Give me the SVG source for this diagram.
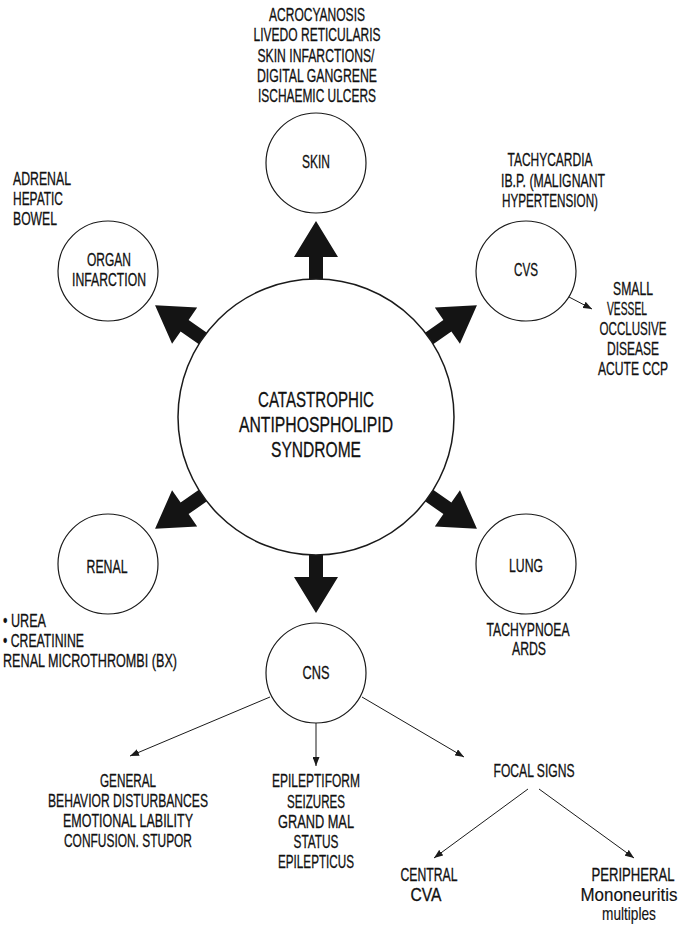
<svg xmlns="http://www.w3.org/2000/svg" width="680" height="927" viewBox="0 0 680 927">
  <style>
    .bg { fill: #ffffff; }
    .node { fill: #ffffff; stroke: #1a1a1a; stroke-width: 1.2; }
    .hub { fill: #ffffff; stroke: #1a1a1a; stroke-width: 1.5; }
    .t { font-family: "Liberation Sans", Arial, sans-serif; font-size: 18px; fill: #111111; stroke: #111111; stroke-width: 0.3; text-anchor: middle; }
    .l { text-anchor: start; }
    .lc { stroke-width: 0.15; }
    .title { font-size: 22px; }
    .thick { fill: #141414; }
    .thin { fill: none; stroke: #1a1a1a; stroke-width: 1; marker-end: url(#head); }
  </style>
  <defs>
    <marker id="head" markerUnits="userSpaceOnUse" markerWidth="10" markerHeight="7" refX="9" refY="3.5" orient="auto">
      <path d="M0,0 L9,3.5 L0,7 z" fill="#1a1a1a"/>
    </marker>
    <!-- broad arrow pointing up, origin at the hub centre -->
    <path id="bigArrow" d="M-7,-136 L-7,-160 L-22,-160 L0,-196 L22,-160 L7,-160 L7,-136 z"/>
  </defs>

  <rect class="bg" x="0" y="0" width="680" height="927"/>

  <!-- connectors -->
  <g id="connectors">
    <g class="thick" transform="translate(316,417)">
      <use href="#bigArrow"/>
      <use href="#bigArrow" transform="rotate(55.2)"/>
      <use href="#bigArrow" transform="rotate(-55.2)"/>
      <use href="#bigArrow" transform="rotate(124.8)"/>
      <use href="#bigArrow" transform="rotate(-124.8)"/>
      <use href="#bigArrow" transform="rotate(180)"/>
    </g>
    <line class="thin" x1="569" y1="297" x2="592" y2="309"/>
    <line class="thin" x1="270" y1="697" x2="130" y2="756"/>
    <line class="thin" x1="316" y1="723" x2="316" y2="766"/>
    <line class="thin" x1="362" y1="697" x2="464" y2="757"/>
    <line class="thin" x1="528" y1="789" x2="434" y2="858"/>
    <line class="thin" x1="539" y1="789" x2="634" y2="858"/>
  </g>

  <!-- central syndrome -->
  <g id="caps">
    <circle class="hub" cx="316" cy="417" r="138"/>
    <text class="t title" x="316" y="407" textLength="116" lengthAdjust="spacingAndGlyphs">CATASTROPHIC</text>
    <text class="t title" x="316" y="432" textLength="154" lengthAdjust="spacingAndGlyphs">ANTIPHOSPHOLIPID</text>
    <text class="t title" x="316" y="457" textLength="90" lengthAdjust="spacingAndGlyphs">SYNDROME</text>
  </g>

  <!-- skin -->
  <g id="skin">
    <text class="t" x="317" y="21" textLength="96" lengthAdjust="spacingAndGlyphs">ACROCYANOSIS</text>
    <text class="t" x="317" y="41" textLength="127" lengthAdjust="spacingAndGlyphs">LIVEDO RETICULARIS</text>
    <text class="t" x="316" y="62" textLength="117" lengthAdjust="spacingAndGlyphs">SKIN INFARCTIONS/</text>
    <text class="t" x="317" y="82" textLength="120" lengthAdjust="spacingAndGlyphs">DIGITAL GANGRENE</text>
    <text class="t" x="317" y="102" textLength="118" lengthAdjust="spacingAndGlyphs">ISCHAEMIC ULCERS</text>
    <circle class="node" cx="316" cy="163" r="50"/>
    <text class="t" x="316" y="168" textLength="28" lengthAdjust="spacingAndGlyphs">SKIN</text>
  </g>

  <!-- cardiovascular -->
  <g id="cvs">
    <text class="t" x="550" y="166" textLength="85" lengthAdjust="spacingAndGlyphs">TACHYCARDIA</text>
    <text class="t" x="553" y="187" textLength="104" lengthAdjust="spacingAndGlyphs">IB.P. (MALIGNANT</text>
    <text class="t" x="550" y="207" textLength="96" lengthAdjust="spacingAndGlyphs">HYPERTENSION)</text>
    <circle class="node" cx="526" cy="271" r="50"/>
    <text class="t" x="526" y="276" textLength="24" lengthAdjust="spacingAndGlyphs">CVS</text>
    <!-- narrow column by the right edge: squeezed horizontally -->
    <g transform="translate(633,0) scale(0.7,1)">
      <text class="t" x="0" y="295" textLength="57" lengthAdjust="spacingAndGlyphs">SMALL</text>
      <text class="t" x="-8.6" y="315" textLength="57" lengthAdjust="spacingAndGlyphs">VESSEL</text>
      <text class="t" x="0" y="335" textLength="95.7" lengthAdjust="spacingAndGlyphs">OCCLUSIVE</text>
      <text class="t" x="0" y="355" textLength="74.3" lengthAdjust="spacingAndGlyphs">DISEASE</text>
      <text class="t" x="0" y="375" textLength="100" lengthAdjust="spacingAndGlyphs">ACUTE CCP</text>
    </g>
  </g>

  <!-- organ infarction -->
  <g id="organ">
    <text class="t l" x="13" y="185" textLength="58" lengthAdjust="spacingAndGlyphs">ADRENAL</text>
    <text class="t l" x="13" y="205" textLength="50" lengthAdjust="spacingAndGlyphs">HEPATIC</text>
    <text class="t l" x="13" y="225" textLength="44" lengthAdjust="spacingAndGlyphs">BOWEL</text>
    <circle class="node" cx="108" cy="271" r="50"/>
    <text class="t" x="109" y="266" textLength="44" lengthAdjust="spacingAndGlyphs">ORGAN</text>
    <text class="t" x="109" y="286" textLength="74" lengthAdjust="spacingAndGlyphs">INFARCTION</text>
  </g>

  <!-- renal -->
  <g id="renal">
    <circle class="node" cx="108" cy="564" r="50"/>
    <text class="t" x="107" y="573" textLength="41" lengthAdjust="spacingAndGlyphs">RENAL</text>
    <text class="t l" x="3" y="627" textLength="43" lengthAdjust="spacingAndGlyphs">• UREA</text>
    <text class="t l" x="3" y="647" textLength="81" lengthAdjust="spacingAndGlyphs">• CREATININE</text>
    <text class="t l" x="3" y="667" textLength="174" lengthAdjust="spacingAndGlyphs">RENAL MICROTHROMBI (BX)</text>
  </g>

  <!-- lung -->
  <g id="lung">
    <circle class="node" cx="526" cy="564" r="50"/>
    <text class="t" x="526" y="572" textLength="34" lengthAdjust="spacingAndGlyphs">LUNG</text>
    <text class="t" x="528" y="636" textLength="83" lengthAdjust="spacingAndGlyphs">TACHYPNOEA</text>
    <text class="t" x="529" y="655" textLength="34" lengthAdjust="spacingAndGlyphs">ARDS</text>
  </g>

  <!-- central nervous system -->
  <g id="cns">
    <circle class="node" cx="316" cy="673" r="50"/>
    <text class="t" x="316" y="679" textLength="27" lengthAdjust="spacingAndGlyphs">CNS</text>
  </g>

  <g id="general">
    <text class="t" x="128" y="787" textLength="56" lengthAdjust="spacingAndGlyphs">GENERAL</text>
    <text class="t" x="128" y="807" textLength="160" lengthAdjust="spacingAndGlyphs">BEHAVIOR DISTURBANCES</text>
    <text class="t" x="128" y="827" textLength="130" lengthAdjust="spacingAndGlyphs">EMOTIONAL LABILITY</text>
    <text class="t" x="128" y="847" textLength="128" lengthAdjust="spacingAndGlyphs">CONFUSION. STUPOR</text>
  </g>

  <g id="epileptiform">
    <text class="t" x="316" y="787" textLength="88" lengthAdjust="spacingAndGlyphs">EPILEPTIFORM</text>
    <text class="t" x="316" y="808" textLength="58" lengthAdjust="spacingAndGlyphs">SEIZURES</text>
    <text class="t" x="316" y="828" textLength="76" lengthAdjust="spacingAndGlyphs">GRAND MAL</text>
    <text class="t" x="316" y="848" textLength="45" lengthAdjust="spacingAndGlyphs">STATUS</text>
    <text class="t" x="316" y="868" textLength="76" lengthAdjust="spacingAndGlyphs">EPILEPTICUS</text>
  </g>

  <g id="focal">
    <text class="t" x="534" y="777" textLength="81" lengthAdjust="spacingAndGlyphs">FOCAL SIGNS</text>
  </g>

  <g id="central">
    <text class="t" x="429" y="881" textLength="57" lengthAdjust="spacingAndGlyphs">CENTRAL</text>
    <text class="t" x="426" y="901" textLength="31" lengthAdjust="spacingAndGlyphs">CVA</text>
  </g>

  <g id="peripheral">
    <g transform="translate(631,0) scale(0.7,1)">
      <text class="t" x="2.9" y="881" textLength="118.6" lengthAdjust="spacingAndGlyphs">PERIPHERAL</text>
      <text class="t lc" x="-2.9" y="901" textLength="138.6" lengthAdjust="spacingAndGlyphs">Mononeuritis</text>
      <text class="t lc" x="-2.9" y="920" textLength="77" lengthAdjust="spacingAndGlyphs">multiples</text>
    </g>
  </g>
</svg>
